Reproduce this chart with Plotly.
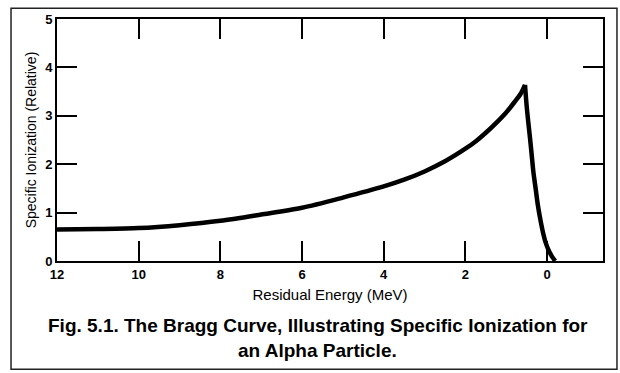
import plotly.graph_objects as go

# Residual energy (MeV) and specific ionization (relative)
rise_energy = [12.0, 11.0, 10.0, 9.0, 8.0, 7.0, 6.0, 5.0, 4.0, 3.5, 3.0, 2.5, 2.0, 1.75, 1.5, 1.25, 1.0, 0.8, 0.65, 0.54]
rise_ionization = [0.65, 0.66, 0.68, 0.74, 0.83, 0.96, 1.10, 1.31, 1.54, 1.68, 1.85, 2.06, 2.32, 2.47, 2.65, 2.85, 3.07, 3.28, 3.45, 3.64]
fall_energy = [0.54, 0.50, 0.46, 0.416, 0.376, 0.336, 0.28, 0.228, 0.16, 0.091, 0.03, -0.056, -0.13, -0.20]
fall_ionization = [3.64, 3.21, 2.87, 2.53, 2.19, 1.85, 1.50, 1.17, 0.84, 0.56, 0.37, 0.19, 0.08, 0.0]

x_ticks = [12, 10, 8, 6, 4, 2, 0]
y_ticks = [0, 1, 2, 3, 4, 5]

fig = go.Figure()
for xs, ys in ((rise_energy, rise_ionization), (fall_energy, fall_ionization)):
    fig.add_trace(go.Scatter(x=xs, y=ys, mode="lines",
                             line=dict(color="black", width=4.5, shape="spline", smoothing=0.8),
                             hoverinfo="skip"))

font_family = "Liberation Sans, Arial, sans-serif"
axis_common = dict(showgrid=False, zeroline=False, showline=True, linecolor="black", linewidth=2,
                   ticks="inside", ticklen=20, tickwidth=2, tickcolor="black", mirror="allticks",
                   tickfont=dict(family=font_family, size=13, color="black", weight="bold"))

fig.update_layout(
    width=620, height=373,
    margin=dict(l=57, r=17, t=15, b=112),
    paper_bgcolor="white", plot_bgcolor="white",
    showlegend=False,
    xaxis=dict(range=[12.0, -1.37], tickvals=x_ticks, ticktext=[str(v) for v in x_ticks],
               title=dict(text="Residual Energy (MeV)", standoff=9,
                          font=dict(family=font_family, size=15, color="black")),
               **axis_common),
    yaxis=dict(range=[0, 5], tickvals=y_ticks, ticktext=[str(v) for v in y_ticks],
               title=dict(text="Specific Ionization (Relative)", standoff=5,
                          font=dict(family=font_family, size=14, color="black")),
               **axis_common),
    shapes=[dict(type="rect", xref="paper", yref="paper",
                 x0=-0.0842, x1=1.0256, y0=-0.447, y1=1.0447,
                 line=dict(color="#222", width=1.5), fillcolor="rgba(0,0,0,0)", layer="below")],
    annotations=[
        dict(text="<b>Fig. 5.1. The Bragg Curve, Illustrating Specific Ionization for</b>",
             xref="paper", yref="paper", x=0.478, y=-0.268, showarrow=False,
             xanchor="center", yanchor="middle",
             font=dict(family=font_family, size=19, color="black")),
        dict(text="<b>an Alpha Particle.</b>",
             xref="paper", yref="paper", x=0.478, y=-0.37, showarrow=False,
             xanchor="center", yanchor="middle",
             font=dict(family=font_family, size=19, color="black")),
    ],
)

fig.write_html("out.html")
